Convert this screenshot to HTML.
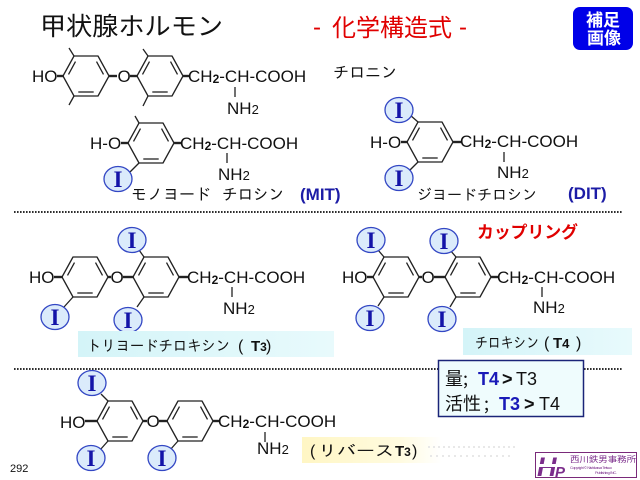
<!DOCTYPE html>
<html><head><meta charset="utf-8"><style>
html,body{margin:0;padding:0;background:#fff;}
svg{display:block;}
.s{font-family:"Liberation Sans",Arial,sans-serif;font-size:17px;fill:#111;}
.j{font-family:"Liberation Sans","IPAGothic","Noto Sans CJK JP",sans-serif;fill:#111;}
.b{stroke:#222;stroke-width:1.3;fill:none;}
.d{stroke:#222;stroke-width:2.4;}
.io{fill:#dbebfb;stroke:#3347c4;stroke-width:1.3;}
.it{font-family:"Liberation Serif",serif;font-weight:bold;font-size:23px;fill:#1414a8;text-anchor:middle;}
</style></head><body>
<svg width="640" height="480" viewBox="0 0 640 480" xmlns="http://www.w3.org/2000/svg">
<defs>
 <g id="ring" fill="none" stroke="#222" stroke-width="1.3" stroke-linejoin="round">
  <polygon points="0,0 11,-20 35,-20 46,0 35,20 11,20"/>
  <line x1="5.5" y1="-1.6" x2="12.5" y2="-14.4"/>
  <line x1="33.5" y1="-14.4" x2="40.5" y2="-1.6"/>
  <line x1="15.3" y1="16" x2="30.7" y2="16"/>
 </g>
 <linearGradient id="cy" x1="0" y1="0" x2="1" y2="0">
  <stop offset="0" stop-color="#d4f4f8"/><stop offset="1" stop-color="#e8fafc"/>
 </linearGradient>
 <linearGradient id="ye" x1="0" y1="0" x2="1" y2="0">
  <stop offset="0" stop-color="#fff6c4"/><stop offset="0.7" stop-color="#fffbe0"/><stop offset="1" stop-color="#ffffff"/>
 </linearGradient>
</defs>

<!-- Title -->
<text x="40" y="35" font-family="'Noto Sans CJK JP',sans-serif" font-size="25" fill="#111" textLength="183" lengthAdjust="spacingAndGlyphs">甲状腺ホルモン</text>
<text x="313" y="35" font-family="'Liberation Sans',sans-serif" font-size="24" fill="#e00000">-</text>
<text x="332" y="36" font-family="'Noto Sans CJK JP',sans-serif" font-size="24" fill="#e00000" textLength="120" lengthAdjust="spacingAndGlyphs">化学構造式</text>
<text x="459" y="35" font-family="'Liberation Sans',sans-serif" font-size="24" fill="#e00000">-</text>

<rect x="573" y="7" width="60" height="43" rx="7" fill="#0000e8"/>
<text x="603" y="26" text-anchor="middle" font-family="'Noto Sans CJK JP',sans-serif" font-weight="bold" font-size="17" fill="#fff">補足</text>
<text x="604" y="44" text-anchor="middle" font-family="'Noto Sans CJK JP',sans-serif" font-weight="bold" font-size="17" fill="#fff">画像</text>

<!-- Structure 1: thyronine -->
<text class="s" x="32" y="82">HO</text>
<line class="d" x1="57" y1="76" x2="64" y2="76"/>
<use href="#ring" transform="translate(63,76)"/>
<line class="b" x1="74" y1="56" x2="69" y2="48"/>
<line class="b" x1="74" y1="96" x2="69" y2="105"/>
<line class="d" x1="109" y1="76" x2="117" y2="76"/>
<text class="s" x="117.5" y="82">O</text>
<line class="d" x1="130" y1="76" x2="138" y2="76"/>
<use href="#ring" transform="translate(137,76)"/>
<line class="b" x1="148" y1="56" x2="143" y2="49"/>
<line class="b" x1="148" y1="96" x2="143" y2="106"/>
<line class="d" x1="183" y1="76" x2="189" y2="76"/>
<text class="s" x="188" y="82">CH<tspan font-size="12" font-weight="bold" dy="1">2</tspan><tspan dy="-1">-CH-COOH</tspan></text>
<line class="b" x1="235" y1="87" x2="235" y2="97" stroke-width="1"/>
<text class="s" x="227" y="114">NH<tspan font-size="13">2</tspan></text>
<text class="j" x="333" y="78" font-size="16" textLength="64" lengthAdjust="spacingAndGlyphs">チロニン</text>

<!-- MIT -->
<text class="s" x="90" y="149">H-O</text>
<line class="d" x1="121" y1="143" x2="129" y2="143"/>
<use href="#ring" transform="translate(128,143)"/>
<line class="b" x1="139" y1="123" x2="135" y2="116"/>
<line class="b" x1="139" y1="163" x2="130" y2="172"/>
<ellipse class="io" cx="118" cy="179" rx="14" ry="12.5"/>
<text class="it" x="118" y="187">I</text>
<line class="d" x1="174" y1="143" x2="181" y2="143"/>
<text class="s" x="180" y="149">CH<tspan font-size="12" font-weight="bold" dy="1">2</tspan><tspan dy="-1">-CH-COOH</tspan></text>
<line class="b" x1="227" y1="153" x2="227" y2="163" stroke-width="1"/>
<text class="s" x="218" y="180">NH<tspan font-size="13">2</tspan></text>
<text class="j" x="131" y="200" font-size="16" textLength="80" lengthAdjust="spacingAndGlyphs">モノヨード</text>
<text class="j" x="222" y="200" font-size="16" textLength="62" lengthAdjust="spacingAndGlyphs">チロシン</text>
<text x="300" y="200" font-family="'Liberation Sans',sans-serif" font-weight="bold" font-size="17" fill="#1c1ca6">(MIT)</text>

<!-- DIT -->
<text class="s" x="370" y="148">H-O</text>
<line class="d" x1="401" y1="142" x2="408" y2="142"/>
<use href="#ring" transform="translate(407,142)"/>
<line class="b" x1="418" y1="122" x2="410" y2="115"/>
<line class="b" x1="418" y1="162" x2="410" y2="170"/>
<ellipse class="io" cx="399" cy="110" rx="14" ry="12.5"/>
<text class="it" x="399" y="118">I</text>
<ellipse class="io" cx="399" cy="178" rx="14" ry="12.5"/>
<text class="it" x="399" y="186">I</text>
<line class="d" x1="453" y1="142" x2="461" y2="142"/>
<text class="s" x="460" y="147">CH<tspan font-size="12" font-weight="bold" dy="1">2</tspan><tspan dy="-1">-CH-COOH</tspan></text>
<line class="b" x1="504" y1="152" x2="504" y2="162" stroke-width="1"/>
<text class="s" x="497" y="178">NH<tspan font-size="13">2</tspan></text>
<text class="j" x="417" y="200" font-size="15" textLength="120" lengthAdjust="spacingAndGlyphs">ジヨードチロシン</text>
<text x="568" y="199" font-family="'Liberation Sans',sans-serif" font-weight="bold" font-size="17" fill="#1c1ca6">(DIT)</text>

<line x1="14" y1="212" x2="622" y2="212" stroke="#111" stroke-width="1.8" stroke-dasharray="1.6 1.4"/>

<!-- T3 -->
<text class="s" x="29" y="283">HO</text>
<line class="d" x1="54" y1="277" x2="63" y2="277"/>
<use href="#ring" transform="translate(62,277)"/>
<line class="b" x1="73" y1="297" x2="64" y2="307"/>
<line class="d" x1="108" y1="277" x2="111" y2="277"/>
<text class="s" x="110.5" y="283">O</text>
<line class="d" x1="123" y1="277" x2="134" y2="277"/>
<use href="#ring" transform="translate(133,277)"/>
<line class="b" x1="144" y1="257" x2="139" y2="250"/>
<line class="b" x1="144" y1="297" x2="137" y2="307"/>
<line class="d" x1="179" y1="277" x2="188" y2="277"/>
<text class="s" x="187" y="283">CH<tspan font-size="12" font-weight="bold" dy="1">2</tspan><tspan dy="-1">-CH-COOH</tspan></text>
<line class="b" x1="232" y1="287" x2="232" y2="297" stroke-width="1"/>
<text class="s" x="223" y="314">NH<tspan font-size="13">2</tspan></text>
<ellipse class="io" cx="132" cy="240" rx="14" ry="12.5"/>
<text class="it" x="132" y="248">I</text>
<ellipse class="io" cx="55" cy="317" rx="14" ry="12.5"/>
<text class="it" x="55" y="325">I</text>
<ellipse class="io" cx="128" cy="320" rx="14" ry="12.5"/>
<text class="it" x="128" y="328">I</text>
<rect x="78" y="331" width="256" height="26" fill="url(#cy)"/>
<text class="j" x="87" y="351" font-size="15" textLength="143" lengthAdjust="spacingAndGlyphs">トリヨードチロキシン</text>
<text x="238" y="351" font-family="'Liberation Sans',sans-serif" font-size="16" fill="#111">(</text>
<text x="251" y="351" font-family="'Liberation Sans',sans-serif" font-weight="bold" font-size="15" fill="#111">T<tspan font-size="12">3</tspan></text>
<text x="266" y="351" font-family="'Liberation Sans',sans-serif" font-size="16" fill="#111">)</text>

<!-- T4 -->
<text x="477" y="238" font-family="'Noto Sans CJK JP',sans-serif" font-weight="bold" font-size="17" fill="#e00000" textLength="101" lengthAdjust="spacingAndGlyphs">カップリング</text>
<text class="s" x="342" y="283">HO</text>
<line class="d" x1="367" y1="277" x2="374" y2="277"/>
<use href="#ring" transform="translate(373,277)"/>
<line class="b" x1="384" y1="257" x2="378" y2="250"/>
<line class="b" x1="384" y1="297" x2="378" y2="306"/>
<line class="d" x1="419" y1="277" x2="422" y2="277"/>
<text class="s" x="421.5" y="283">O</text>
<line class="d" x1="434" y1="277" x2="446" y2="277"/>
<use href="#ring" transform="translate(445,277)"/>
<line class="b" x1="456" y1="257" x2="450" y2="250"/>
<line class="b" x1="456" y1="297" x2="450" y2="307"/>
<line class="d" x1="491" y1="277" x2="498" y2="277"/>
<text class="s" x="497" y="283">CH<tspan font-size="12" font-weight="bold" dy="1">2</tspan><tspan dy="-1">-CH-COOH</tspan></text>
<line class="b" x1="542" y1="287" x2="542" y2="297" stroke-width="1"/>
<text class="s" x="533" y="313">NH<tspan font-size="13">2</tspan></text>
<ellipse class="io" cx="371" cy="240" rx="14" ry="12.5"/>
<text class="it" x="371" y="248">I</text>
<ellipse class="io" cx="444" cy="241" rx="14" ry="12.5"/>
<text class="it" x="444" y="249">I</text>
<ellipse class="io" cx="370" cy="318" rx="14" ry="12.5"/>
<text class="it" x="370" y="326">I</text>
<ellipse class="io" cx="442" cy="319" rx="14" ry="12.5"/>
<text class="it" x="442" y="327">I</text>
<rect x="463" y="328" width="169" height="27" fill="url(#cy)"/>
<text class="j" x="475" y="348" font-size="15" textLength="64" lengthAdjust="spacingAndGlyphs">チロキシン</text>
<text x="544" y="348" font-family="'Liberation Sans',sans-serif" font-size="16" fill="#111">(</text>
<text x="553" y="348" font-family="'Liberation Sans',sans-serif" font-weight="bold" font-size="15" fill="#111">T<tspan font-size="13">4</tspan></text>
<text x="576" y="348" font-family="'Liberation Sans',sans-serif" font-size="16" fill="#111">)</text>

<line x1="14" y1="369" x2="622" y2="369" stroke="#111" stroke-width="1.8" stroke-dasharray="1.6 1.4"/>

<!-- info box -->
<rect x="438.5" y="360.5" width="145" height="56" fill="#effcfd" stroke="#1a2478" stroke-width="1.5"/>
<text x="445" y="385" font-family="'Noto Sans CJK JP',sans-serif" font-size="18" fill="#111">量</text>
<text x="463" y="385" font-family="'Noto Sans CJK JP',sans-serif" font-size="18" fill="#111">;</text>
<text x="478" y="385" font-family="'Liberation Sans',sans-serif" font-weight="bold" font-size="18" fill="#1a1ab8">T4</text>
<text x="502" y="385" font-family="'Liberation Sans',sans-serif" font-weight="bold" font-size="18" fill="#111">&gt;</text>
<text x="516" y="385" font-family="'Liberation Sans',sans-serif" font-size="18" fill="#111">T3</text>
<text x="445" y="410" font-family="'Noto Sans CJK JP',sans-serif" font-size="18" fill="#111">活性</text>
<text x="484" y="410" font-family="'Noto Sans CJK JP',sans-serif" font-size="18" fill="#111">;</text>
<text x="499" y="410" font-family="'Liberation Sans',sans-serif" font-weight="bold" font-size="18" fill="#1a1ab8">T3</text>
<text x="524" y="410" font-family="'Liberation Sans',sans-serif" font-weight="bold" font-size="18" fill="#111">&gt;</text>
<text x="539" y="410" font-family="'Liberation Sans',sans-serif" font-size="18" fill="#111">T4</text>

<!-- reverse T3 -->
<text class="s" x="60" y="428">HO</text>
<line class="d" x1="85" y1="421" x2="98" y2="421"/>
<use href="#ring" transform="translate(97,421)"/>
<line class="b" x1="108" y1="401" x2="101" y2="394"/>
<line class="b" x1="108" y1="441" x2="100" y2="450"/>
<line class="d" x1="143" y1="421" x2="147" y2="421"/>
<text class="s" x="146.5" y="427">O</text>
<line class="d" x1="159" y1="421" x2="168" y2="421"/>
<use href="#ring" transform="translate(167,421)"/>
<line class="b" x1="178" y1="441" x2="170" y2="450"/>
<line class="d" x1="213" y1="421" x2="219" y2="421"/>
<text class="s" x="218" y="427">CH<tspan font-size="12" font-weight="bold" dy="1">2</tspan><tspan dy="-1">-CH-COOH</tspan></text>
<line class="b" x1="265" y1="432" x2="265" y2="442" stroke-width="1"/>
<text class="s" x="257" y="454">NH<tspan font-size="13">2</tspan></text>
<ellipse class="io" cx="92" cy="383" rx="14" ry="12.5"/>
<text class="it" x="92" y="391">I</text>
<ellipse class="io" cx="91" cy="458" rx="14" ry="12.5"/>
<text class="it" x="91" y="466">I</text>
<ellipse class="io" cx="162" cy="458" rx="14" ry="12.5"/>
<text class="it" x="162" y="466">I</text>
<rect x="302" y="437" width="140" height="26" fill="url(#ye)"/>
<text x="310" y="456" font-family="'Liberation Sans',sans-serif" font-size="16" fill="#111">(</text>
<text class="j" x="318" y="456" font-size="15" textLength="76" lengthAdjust="spacingAndGlyphs">リバース</text>
<text x="395" y="456" font-family="'Liberation Sans',sans-serif" font-weight="bold" font-size="15" fill="#111">T<tspan font-size="12">3</tspan></text>
<text x="412" y="456" font-family="'Liberation Sans',sans-serif" font-size="16" fill="#111">)</text>
<line x1="428" y1="447" x2="518" y2="447" stroke="#e8e8e8" stroke-width="2" stroke-dasharray="2 3"/>
<line x1="430" y1="456" x2="512" y2="456" stroke="#e8e8e8" stroke-width="2" stroke-dasharray="2 4"/>

<text x="10" y="472" font-family="'Liberation Sans',sans-serif" font-size="11" fill="#111">292</text>

<!-- logo -->
<rect x="535.5" y="452.5" width="101" height="25" fill="#fff" stroke="#7a2a7a" stroke-width="1"/>
<text x="537" y="476" font-family="'Liberation Sans',sans-serif" font-weight="bold" font-style="italic" font-size="27" fill="#7b2d8b">H</text>
<text x="555" y="477" font-family="'Liberation Sans',sans-serif" font-weight="bold" font-style="italic" font-size="15" fill="#7b2d8b">P</text>
<rect x="537" y="464" width="22" height="3" fill="#fff"/>
<text x="570" y="462" font-family="'Noto Sans CJK JP',sans-serif" font-size="8" fill="#7b2d8b" textLength="66" lengthAdjust="spacingAndGlyphs">西川鉄男事務所</text>
<text x="570" y="469" font-family="'Liberation Sans',sans-serif" font-size="4" fill="#7b2d8b" textLength="42">Copyright © Nishikawa Tetsuo</text>
<text x="595" y="474" font-family="'Liberation Sans',sans-serif" font-size="4" fill="#7b2d8b" textLength="22">Publishing INC.</text>
</svg>
</body></html>
